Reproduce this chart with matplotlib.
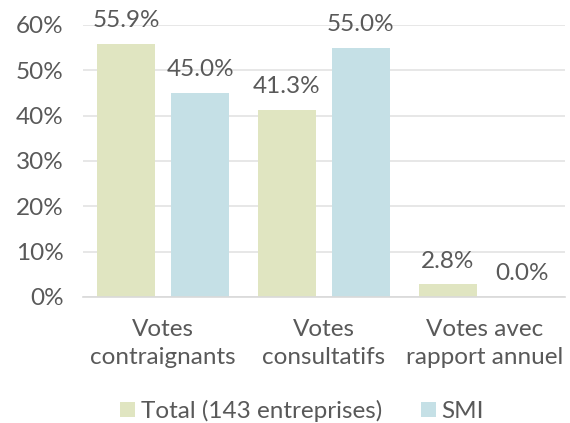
import numpy as np
import matplotlib.pyplot as plt
from matplotlib.ticker import PercentFormatter

categories = ["Votes\ncontraignants", "Votes\nconsultatifs", "Votes avec\nrapport annuel"]
total = [55.9, 41.3, 2.8]
smi = [45.0, 55.0, 0.0]
series_names = ["Total (143 entreprises)", "SMI"]
colors = ["#e0e5c1", "#c5e0e6"]

plt.rcParams['font.family'] = ['Lato', 'DejaVu Sans']
txt = "#595959"
fs = 17.5

fig = plt.figure(figsize=(5.7, 4.23), dpi=100)
ax = fig.add_axes([0.1456, 0.298, 0.8454, 0.643])

x = np.arange(len(categories))
w = 0.36
off = 0.23
for vals, name, col, d in [(total, series_names[0], colors[0], -off),
                           (smi, series_names[1], colors[1], off)]:
    bars = ax.bar(x + d, vals, w, color=col, label=name, zorder=2)
    for b, v in zip(bars, vals):
        ax.annotate(f"{v:.1f}%", (b.get_x() + b.get_width() / 2, v),
                    xytext=(0, 9), textcoords="offset points",
                    ha="center", va="bottom", fontsize=fs, color=txt)

ax.set_xlim(-0.5, 2.5)
ax.set_ylim(0, 60)
ax.set_yticks(range(0, 61, 10))
ax.yaxis.set_major_formatter(PercentFormatter(decimals=0))
ax.set_xticks(x)
ax.set_xticklabels(categories, linespacing=1.4)
ax.tick_params(axis="both", length=0, labelsize=fs, labelcolor=txt)
ax.tick_params(axis="x", pad=16)
ax.tick_params(axis="y", pad=14)
ax.grid(axis="y", color="#e3e3e3", linewidth=1.2, zorder=0)
for s in ["top", "right", "left"]:
    ax.spines[s].set_visible(False)
ax.spines["bottom"].set_color("#d9d9d9")
ax.spines["bottom"].set_linewidth(1.2)

leg = fig.legend(loc="lower center", bbox_to_anchor=(0.53, -0.05), ncol=2,
                 frameon=False, fontsize=fs, handlelength=0.6, handleheight=0.6,
                 handletextpad=0.25, columnspacing=1.6)
for t in leg.get_texts():
    t.set_color(txt)

fig.savefig("out.png", dpi=100)
